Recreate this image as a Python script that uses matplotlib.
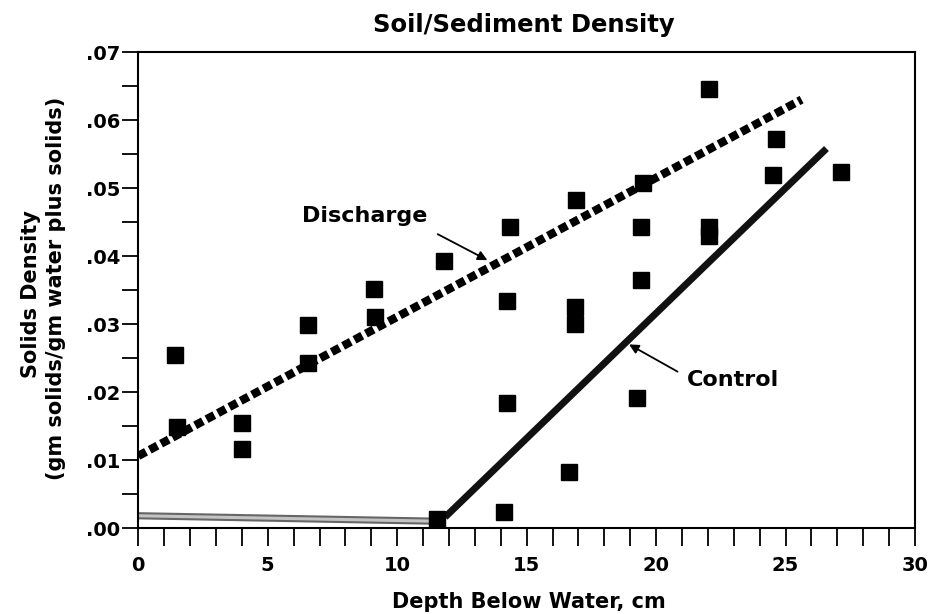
import matplotlib
matplotlib.use("Agg")
import matplotlib.pyplot as plt
from matplotlib.ticker import MultipleLocator, FuncFormatter

plt.rcParams['font.family'] = ['DejaVu Sans']
plt.rcParams['font.weight'] = 'bold'

# measured points
depth = [1.43, 1.49, 4.0, 4.0, 6.57, 6.57, 9.09, 9.15, 11.79, 11.53,
         14.36, 14.23, 14.23, 14.13, 16.91, 16.87, 16.87, 16.64,
         19.48, 19.41, 19.41, 19.25, 22.06, 22.06, 22.06, 24.63, 24.53, 27.14]
density = [0.0255, 0.0148, 0.0154, 0.0116, 0.0299, 0.0242, 0.0351, 0.0311, 0.0392, 0.0013,
           0.0442, 0.0334, 0.0184, 0.0023, 0.0482, 0.0325, 0.0300, 0.0083,
           0.0508, 0.0442, 0.0365, 0.0191, 0.0645, 0.0443, 0.0429, 0.0572, 0.0519, 0.0523]

# fitted lines
discharge_x = [0.0, 25.62]
discharge_y = [0.0106, 0.0630]
control_x = [11.85, 26.58]
control_y = [0.0016, 0.0558]
control_flat_x = [0.0, 11.5]
control_flat_y = [0.0018, 0.0010]

fig = plt.figure(figsize=(9.41, 6.14), dpi=100)
ax = fig.add_axes([138.3/941, 1-528/614, (915-138.3)/941, (528-52)/614])

ax.plot(control_flat_x, control_flat_y, color='#666666', lw=5.2, solid_capstyle='butt', zorder=2)
ax.plot(control_flat_x, control_flat_y, color='#c4c4c4', lw=2.2, solid_capstyle='butt', zorder=2)
ax.plot(discharge_x, discharge_y, color='black', lw=6, linestyle=(0, (1.05, 0.5)),
        dash_capstyle='butt', zorder=3)
ax.plot(control_x, control_y, color='#111111', lw=5, solid_capstyle='butt', zorder=3)
ax.plot(depth, density, linestyle='none', marker='s', markersize=11.5,
        color='black', zorder=4)

ax.set_xlim(0, 30)
ax.set_ylim(0, 0.07)
ax.xaxis.set_major_locator(MultipleLocator(5))
ax.xaxis.set_minor_locator(MultipleLocator(1))
ax.yaxis.set_major_locator(MultipleLocator(0.01))
ax.yaxis.set_minor_locator(MultipleLocator(0.005))
ax.yaxis.set_major_formatter(FuncFormatter(lambda v, p: ('%.2f' % v)[1:] if v >= 0 else '%.2f' % v))
ax.xaxis.set_major_formatter(FuncFormatter(lambda v, p: '%d' % v))

ax.tick_params(axis='x', which='both', direction='out', length=13, width=1.3,
               labelsize=14, pad=7)
ax.tick_params(axis='y', which='both', direction='out', length=11.5, width=1.3,
               labelsize=14, pad=1.5)
for lab in ax.get_xticklabels() + ax.get_yticklabels():
    lab.set_fontweight('bold')
for sp in ax.spines.values():
    sp.set_linewidth(1.5)

ax.text(6.33, 0.0459, 'Discharge', fontsize=16, fontweight='bold', ha='left', va='center')
ax.annotate('', xy=(13.58, 0.0392), xytext=(11.47, 0.0434),
            arrowprops=dict(arrowstyle='-|>', lw=1.3, color='black', mutation_scale=14))
ax.text(21.18, 0.0218, 'Control', fontsize=16, fontweight='bold', ha='left', va='center')
ax.annotate('', xy=(18.86, 0.0272), xytext=(20.92, 0.0228),
            arrowprops=dict(arrowstyle='-|>', lw=1.3, color='black', mutation_scale=14))

fig.text(524/941, 1-32/614, 'Soil/Sediment Density', fontsize=17.5, fontweight='bold',
         ha='center', va='baseline')
fig.text(529/941, 1-608/614, 'Depth Below Water, cm', fontsize=15, fontweight='bold',
         ha='center', va='baseline')
fig.text(31/941, 1-294/614, 'Solids Density', fontsize=15, fontweight='bold',
         ha='center', va='center', rotation=90)
fig.text(56/941, 1-288/614, '(gm solids/gm water plus solids)', fontsize=15, fontweight='bold',
         ha='center', va='center', rotation=90)

fig.savefig('out.png', dpi=100)
